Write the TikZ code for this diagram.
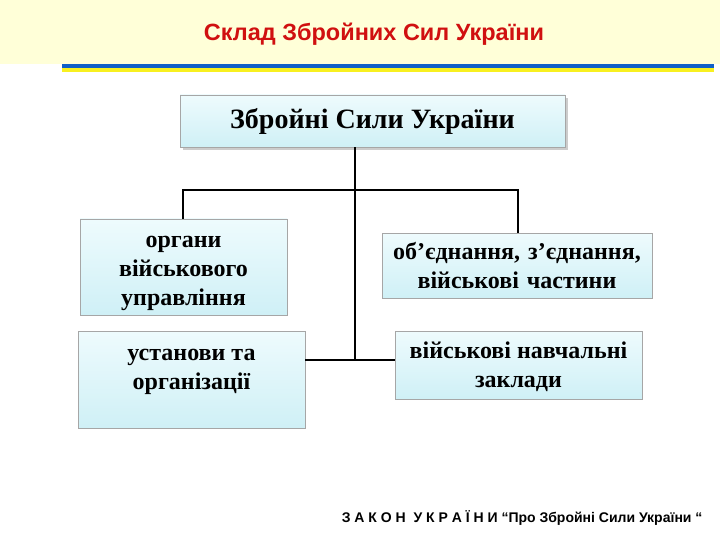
\documentclass[tikz,border=0pt]{standalone}
\usepackage{fontspec}
\setmainfont{Liberation Serif}
\newfontfamily\hdr{Liberation Sans}
\usetikzlibrary{positioning}
\definecolor{band}{HTML}{FFFFD8}
\definecolor{titred}{HTML}{D01010}
\definecolor{ublue}{HTML}{1060C8}
\definecolor{uyel}{HTML}{F8F020}
\definecolor{boxtop}{HTML}{EEFBFD}
\definecolor{boxbot}{HTML}{CFF0F6}
\tikzset{
  box/.style={draw=gray!70, line width=0.8pt, top color=boxtop, bottom color=boxbot, font=\bfseries\fontsize{24}{29}\selectfont, align=center, inner sep=0pt},
  lbl/.style={font=\bfseries\fontsize{24}{29}\selectfont, align=center, inner sep=0pt},
  conn/.style={line width=2.4pt, black}
}
\begin{document}
\begin{tikzpicture}[x=1pt,y=-1pt]
\useasboundingbox (0,0) rectangle (720,540);
\fill[white] (0,0) rectangle (720,540);
\fill[band] (0,0) rectangle (720,64);
\node (title) at (374,34) {\hdr\bfseries\fontsize{23.5}{26}\selectfont\color{titred}Склад Збройних Сил України};
\fill[ublue] (62,64) rectangle (714,68);
\fill[uyel] (62,68) rectangle (714,72);
\fill[gray!40] (183,98) rectangle (568,150);
\node[box, minimum width=385, minimum height=52, font=\bfseries\fontsize{28}{30}\selectfont] (top) at (372.5,121) {Збройні Сили України};
\node[box, minimum width=207, minimum height=96] (b1) at (183.5,267) {};
\node[lbl, text width=205] (b1t) at (183.5,273) {органи\\військового\\управління};
\node[box, minimum width=270, minimum height=65, text width=268] (b2) at (517,265.5) {об’єднання, з’єднання,\\військові частини};
\node[box, minimum width=227, minimum height=97] (b3) at (191.5,379.5) {};
\node[lbl] (b3t) at (191.5,372) {установи та\\організації};
\node[box, minimum width=247, minimum height=68] (b4) at (518.5,365) {};
\node[lbl] (b4t) at (518.5,367) {військові навчальні\\заклади};
\coordinate (vm) at (355,360);
\coordinate (hl) at (183,190);
\coordinate (hr) at (518,190);
\draw[conn] (top.south -| vm) -- (vm);
\draw[conn] (b1.north -| hl) -- (hl) -- (hr) -- (b2.north -| hr);
\draw[conn] (b3.east |- vm) -- (b4.west |- vm);
\node[anchor=east] (law) at (706,518) {\hdr\bfseries\fontsize{14}{16}\selectfont З А К О Н \ У К Р А Ї Н И “Про Збройні Сили України “};
\end{tikzpicture}
\end{document}
